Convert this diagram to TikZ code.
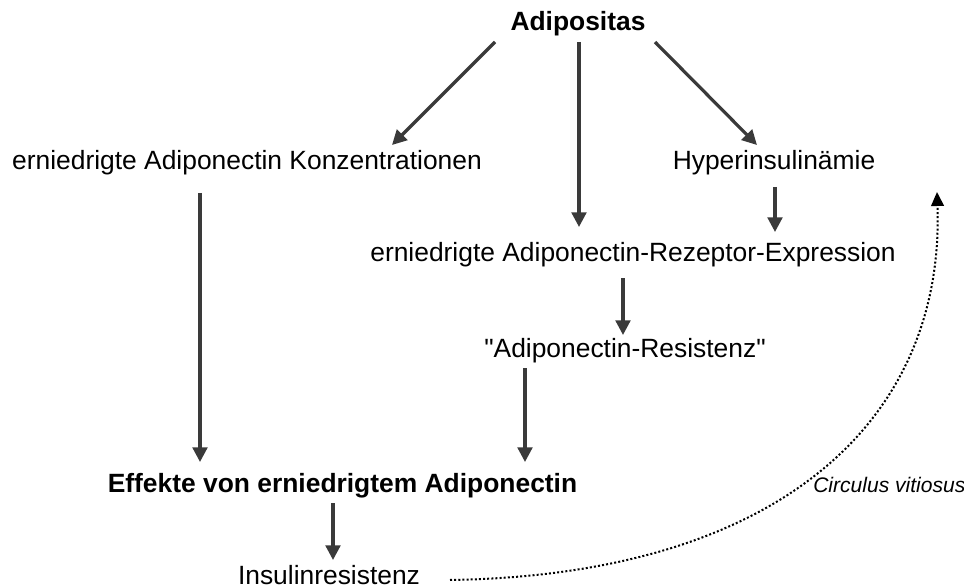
\documentclass[tikz,border=0pt]{standalone}
\usepackage{fontspec}
\setmainfont{Liberation Sans}[Ligatures=TeXOff]
\usetikzlibrary{arrows.meta,calc}
\definecolor{arrgray}{HTML}{3A3A3A}
\begin{document}
\begin{tikzpicture}[x=0.75pt,y=-0.75pt,
 lbl/.style={inner sep=0pt,anchor=base,font=\fontsize{19.8}{24}\selectfont},
 blbl/.style={inner sep=0pt,anchor=base,font=\fontsize{19.8}{24}\selectfont\bfseries},
 arr/.style={draw=arrgray,line width=2.4pt,-{Triangle[length=11pt,width=11pt,fill=arrgray]}},
 circ/.style={draw=black,line width=1.5pt,dash pattern=on 1.5pt off 1.6pt,-{Triangle[length=10.5pt,width=9.5pt]}}]
\useasboundingbox (0,0) rectangle (964,588);
\node[blbl] (adip) at (578,31) {Adipositas};
\node[lbl] (konz) at (247,170) {erniedrigte Adiponectin Konzentrationen};
\node[lbl] (hyper) at (774,170) {Hyperinsulinämie};
\node[lbl] (rez) at (633,262) {erniedrigte Adiponectin-Rezeptor-Expression};
\node[lbl] (res) at (625,357) {"Adiponectin-Resistenz"};
\node[blbl] (eff) at (342.5,492) {Effekte von erniedrigtem Adiponectin};
\node[lbl] (ins) at (329,584) {Insulinresistenz};
\node[anchor=base west,inner sep=0pt,font=\fontsize{15.8}{18}\selectfont\itshape] (cv) at (813,492) {Circulus vitiosus};
\draw[arr] ($(adip.base)+(-83,11)$) -- ($(konz.base)+(145,-25)$);
\draw[arr] ($(adip.base)+(1,11)$) -- ($(rez.base)+(-54,-35)$);
\draw[arr] ($(adip.base)+(77,11)$) -- ($(hyper.base)+(-17,-25)$);
\draw[arr] ($(hyper.base)+(1,17)$) -- ($(rez.base)+(142,-30)$);
\draw[arr] ($(konz.base)+(-47,23)$) -- ($(eff.base)+(-142.5,-30)$);
\draw[arr] ($(rez.base)+(-10,16)$) -- ($(res.base)+(-2,-22)$);
\draw[arr] ($(res.base)+(-100,11)$) -- ($(eff.base)+(182.5,-30)$);
\draw[arr] ($(eff.base)+(-9.5,11)$) -- ($(ins.base)+(4,-24)$);
\draw[circ] ($(ins.base)+(121,-4)$) .. controls (780,575) and (945,420) .. ($(cv.base west)+(124,-300)$);
\end{tikzpicture}
\end{document}
